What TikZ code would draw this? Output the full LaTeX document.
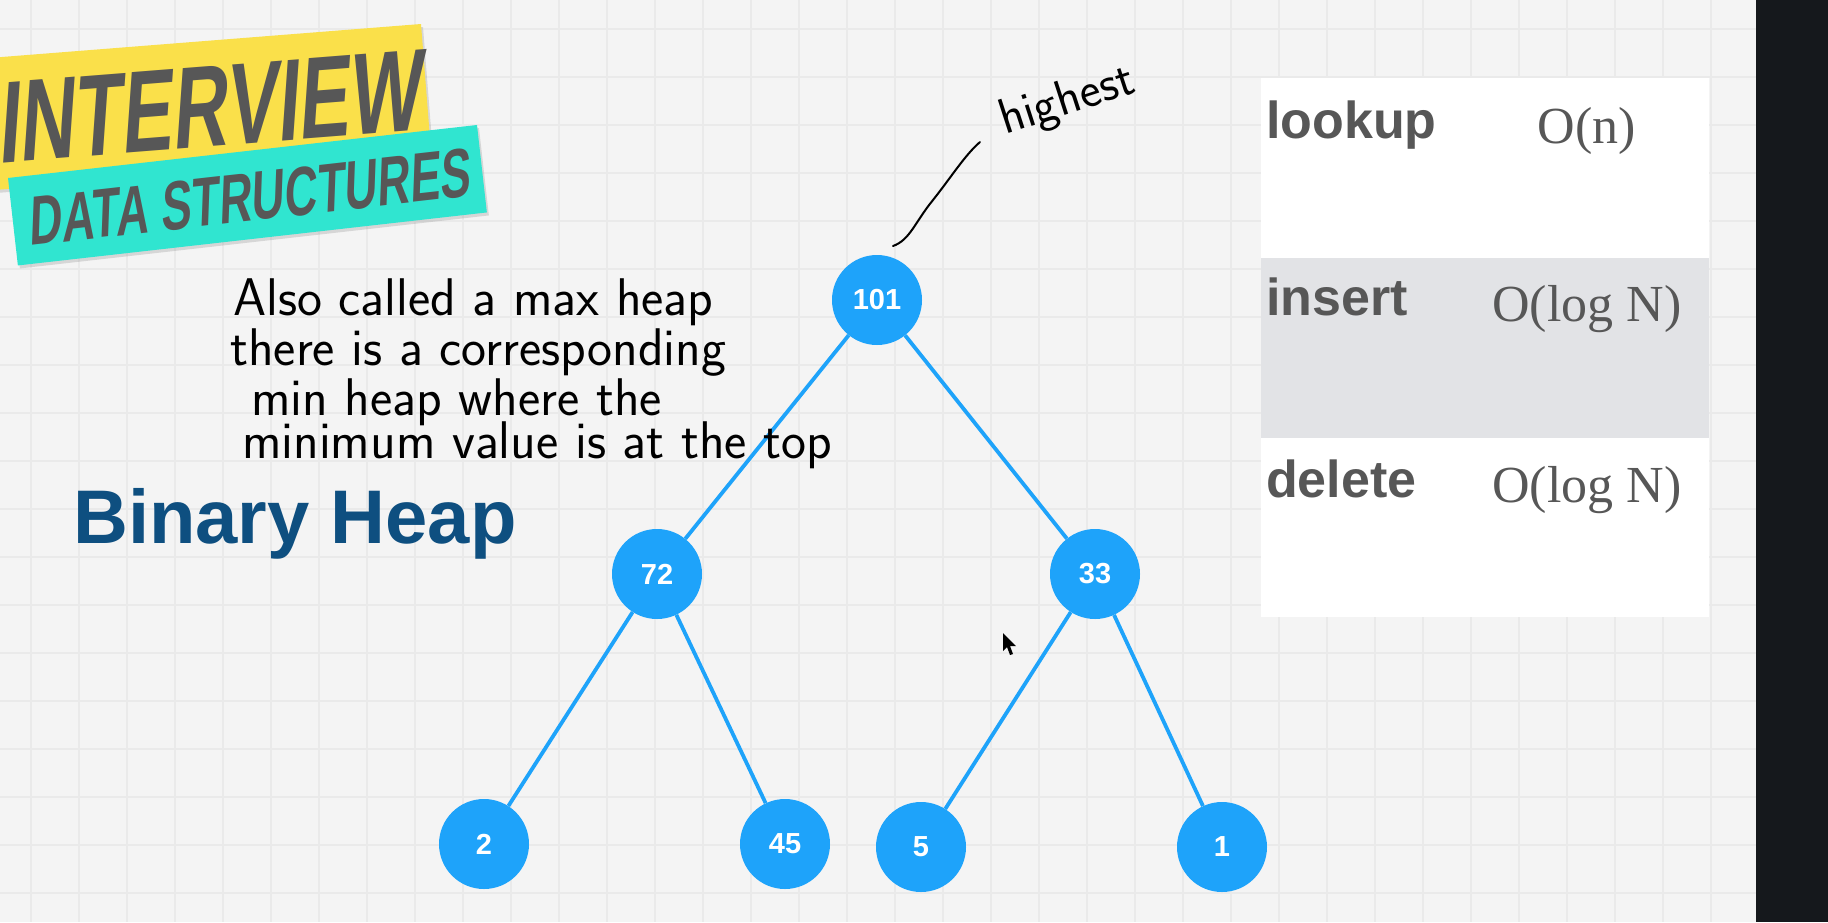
\documentclass[tikz,border=0pt]{standalone}
\usepackage{fontspec}
\usepackage{tikz}
\usetikzlibrary{shadows}
\newfontfamily\arialfont{Liberation Sans}
\newfontfamily\timesfont{Liberation Serif}
\newfontfamily\bannerfont{Liberation Sans}[FakeStretch=0.66,FakeSlant=0.15]
\definecolor{HeapBlue}{HTML}{1EA3FA}
\definecolor{TitleBlue}{HTML}{0E4F80}
\definecolor{BannerYellow}{HTML}{FAE04A}
\definecolor{BannerCyan}{HTML}{30E5D0}
\definecolor{InkGray}{HTML}{575757}
\definecolor{PaperGray}{HTML}{F4F4F4}
\definecolor{GridGray}{HTML}{EAEAEA}
\definecolor{RowGray}{HTML}{E2E3E6}
\definecolor{PanelDark}{HTML}{15181C}

\begin{document}
\begin{tikzpicture}[x=1pt, y=-1pt,
         heapnode/.style={circle, fill=HeapBlue, minimum size=90pt, inner sep=0pt,
            text=white, font=\arialfont\bfseries\fontsize{29}{29}\selectfont},
         heapedge/.style={HeapBlue, line width=3.8pt},
         handwriting/.style={anchor=base west, inner sep=0pt,
            font=\sffamily\fontsize{53}{53}\selectfont},
         opname/.style={anchor=base west, inner sep=0pt, text=InkGray,
            font=\arialfont\bfseries\fontsize{52}{52}\selectfont},
         opcost/.style={anchor=base, inner sep=0pt, text=InkGray,
            font=\timesfont\fontsize{52}{52}\selectfont},
         bannertext/.style={inner sep=0pt, text=InkGray},
         gridline/.style={GridGray, line width=2.5pt}]
         \useasboundingbox (0,0) rectangle (1828,922);

         % paper
         \fill [PaperGray] (0,0) rectangle (1828,922);
         \foreach \gx in {31,79,...,1750}
            \draw [gridline] (\gx,0) -- (\gx,922);
         \foreach \gy in {29,77,...,922}
            \draw [gridline] (0,\gy) -- (1756,\gy);
         \fill [PanelDark] (1756,0) rectangle (1828,922);

         % banners
         \begin{scope}[shift={(421,24)}, rotate=4.5, transform shape]
            \fill [BannerYellow, drop shadow={shadow xshift=2pt, shadow yshift=-3pt, opacity=0.25}]
               (-480,0) rectangle (0,132);
            \node (interview) at (-8,106) [bannertext, anchor=base east,
               font=\bannerfont\bfseries\fontsize{116}{116}\selectfont] {INTERVIEW};
         \end{scope}
         \begin{scope}[shift={(8,178)}, rotate=6.45, transform shape]
            \fill [BannerCyan, drop shadow={shadow xshift=2pt, shadow yshift=-3pt, opacity=0.25}]
               (0,0) rectangle (472,88);
            \node (datastructures) at (236,70) [bannertext, anchor=base,
               font=\bannerfont\bfseries\fontsize{69}{69}\selectfont] {DATA STRUCTURES};
         \end{scope}

         \node (title) at (73,543) [anchor=base west, inner sep=0pt, text=TitleBlue,
            font=\arialfont\bfseries\fontsize{76}{76}\selectfont] {Binary Heap};

         % table
         \fill [white] (1261,78) rectangle (1709,258);
         \fill [RowGray] (1261,258) rectangle (1709,438);
         \fill [white] (1261,438) rectangle (1709,617);
         \node (lookup) at (1266,138) [opname] {lookup};
         \node (lookupcost) at (1587,143) [opcost] {O(n)};
         \node (insert) at (1266,315) [opname] {insert};
         \node (insertcost) at (1587,321) [opcost] {O(log N)};
         \node (delete) at (1266,497) [opname] {delete};
         \node (deletecost) at (1587,502) [opcost] {O(log N)};

         % heap
         \node (101) at (877,300) [heapnode] {101};
         \node (72) at (657,574) [heapnode] {72};
         \node (33) at (1095,574) [heapnode] {33};
         \node (2) at (484,844) [heapnode] {2};
         \node (45) at (785,844) [heapnode] {45};
         \node (5) at (921,847) [heapnode] {5};
         \node (1) at (1222,847) [heapnode] {1};
         \draw [heapedge] (101) -- (72);
         \draw [heapedge] (101) -- (33);
         \draw [heapedge] (72) -- (2);
         \draw [heapedge] (72) -- (45);
         \draw [heapedge] (33) -- (5);
         \draw [heapedge] (33) -- (1);

         % notes
         \node (note1) at (233,315) [handwriting] {Also called a max heap};
         \node (note2) at (230,365) [handwriting] {there is a corresponding};
         \node (note3) at (251,415) [handwriting] {min heap where the};
         \node (note4) at (242,458) [handwriting] {minimum value is at the top};
         \node (highest) at (1005,135) [handwriting, rotate=18,
            font=\sffamily\fontsize{50}{50}\selectfont] {highest};
         \coordinate (pointerstart) at (893,246);
         \coordinate (pointerend) at (980,142);
         \draw [line width=2pt, line cap=round] (pointerstart)
            .. controls (910,240) and (915,222) .. (933,200)
            .. controls (952,176) and (965,155) .. (pointerend);

         % cursor
         \fill [black] (1003,633) -- (1003,651) -- (1007,647) -- (1010,655)
            -- (1013,654) -- (1010,646) -- (1016,646) -- cycle;
      \end{tikzpicture}
\end{document}
